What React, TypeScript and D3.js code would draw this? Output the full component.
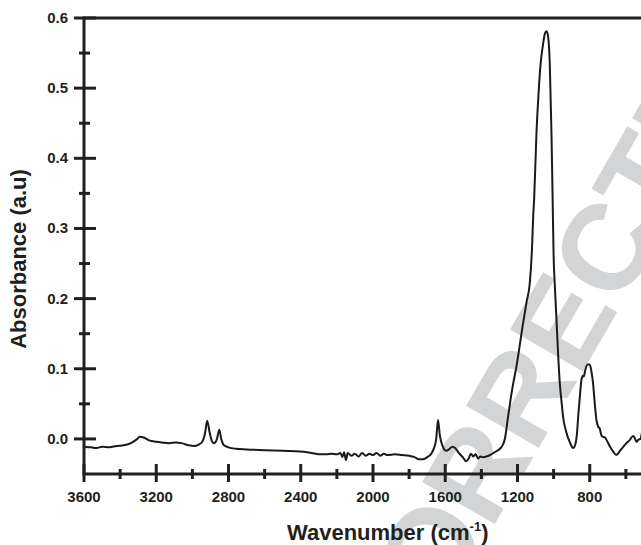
import React, { useRef, useEffect } from "react";
import * as d3 from "d3";

// FTIR spectrum
const wavenumbers = [
  3600, 3560, 3530, 3500, 3460, 3420, 3380, 3340, 3310, 3290, 3270, 3240, 3200,
  3170, 3130, 3090, 3060, 3020, 2990, 2965, 2945, 2930, 2918, 2905, 2890, 2880,
  2865, 2851, 2840, 2825, 2800, 2760, 2700, 2600, 2500, 2400, 2340, 2300, 2260,
  2230, 2200, 2180, 2170, 2160, 2150, 2140, 2120, 2100, 2080, 2060, 2040, 2020,
  2000, 1980, 1960, 1940, 1920, 1880, 1840, 1800, 1770, 1745, 1725, 1700, 1680,
  1665, 1650, 1640, 1630, 1615, 1595, 1580, 1560, 1545, 1525, 1500, 1485, 1470,
  1458, 1445, 1432, 1418, 1405, 1390, 1360, 1320, 1290, 1270, 1252, 1230, 1206,
  1169, 1150, 1132, 1120, 1113, 1108, 1095, 1084, 1073, 1060, 1048, 1040, 1032,
  1021, 1012, 1006, 1000, 994, 985, 975, 966, 955, 948, 930, 910, 892, 880, 870,
  864, 855, 846, 838, 833, 825, 812, 800, 790, 782, 772, 763, 754, 745, 735, 726,
  715, 708, 690, 670, 653, 630, 610, 597, 580, 560, 550, 541, 530, 519, 510, 500,
];
const absorbance = [
  -0.011, -0.012, -0.013, -0.011, -0.012, -0.01, -0.009, -0.006, -0.001, 0.003,
  0.002, -0.002, -0.004, -0.005, -0.006, -0.005, -0.006, -0.009, -0.01, -0.008,
  -0.004, 0.008, 0.026, 0.01, -0.004, -0.006, -0.001, 0.013, 0.0, -0.009,
  -0.012, -0.014, -0.015, -0.016, -0.017, -0.018, -0.02, -0.022, -0.022, -0.021,
  -0.022, -0.02, -0.026, -0.019, -0.03, -0.02, -0.024, -0.021, -0.025, -0.02,
  -0.024, -0.021, -0.023, -0.02, -0.024, -0.021, -0.023, -0.022, -0.023, -0.024,
  -0.026, -0.029, -0.029, -0.026, -0.022, -0.015, 0.0, 0.027, 0.005, -0.01,
  -0.017, -0.015, -0.011, -0.013, -0.02, -0.027, -0.032, -0.028, -0.021, -0.025,
  -0.022, -0.028, -0.025, -0.026, -0.024, -0.018, -0.012, 0.0, 0.032, 0.07,
  0.103, 0.165, 0.195, 0.222, 0.27, 0.318, 0.341, 0.436, 0.49, 0.532, 0.56,
  0.578, 0.581, 0.576, 0.532, 0.436, 0.35, 0.26, 0.222, 0.175, 0.12, 0.08, 0.05,
  0.032, 0.01, -0.005, -0.013, -0.008, 0.01, 0.032, 0.06, 0.084, 0.09, 0.089,
  0.098, 0.106, 0.106, 0.095, 0.08, 0.05, 0.027, 0.018, 0.015, 0.005, 0.003,
  0.002, -0.001, -0.01, -0.018, -0.023, -0.016, -0.01, -0.006, -0.002, 0.004,
  0.001, -0.004, -0.001, 0.0, 0.01, 0.015,
];

const xMajorTicks = [3600, 3200, 2800, 2400, 2000, 1600, 1200, 800];
const xMinorTicks = [3400, 3000, 2600, 2200, 1800, 1400, 1000, 600];
const yMajorTicks = [0.0, 0.1, 0.2, 0.3, 0.4, 0.5, 0.6];
const yMinorTicks = [0.05, 0.15, 0.25, 0.35, 0.45, 0.55];

const width = 641;
const height = 545;
const FONT = "'Liberation Sans', Arial, Helvetica, sans-serif";
const INK = "#231f20";

function Spectrum() {
  const svgRef = useRef(null);

  useEffect(() => {
    const svg = d3.select(svgRef.current);
    svg.selectAll("*").remove();

    const x = d3.scaleLinear().domain([3600, 400]).range([84, 662]);
    const y = d3.scaleLinear().domain([-0.05, 0.6]).range([474, 18]);

    // watermark behind everything
    svg
      .append("text")
      .attr("transform", "translate(556,334) rotate(-60)")
      .attr("text-anchor", "middle")
      .attr("dominant-baseline", "central")
      .attr("font-family", FONT)
      .attr("font-weight", "bold")
      .attr("font-size", 122)
      .attr("fill", "#d3d4d5")
      .text("CORRECTED");

    const data = wavenumbers.map((w, i) => [w, absorbance[i]]);
    const line = d3
      .line()
      .x((d) => x(d[0]))
      .y((d) => y(d[1]))
      .curve(d3.curveMonotoneX);

    svg
      .append("path")
      .datum(data)
      .attr("d", line)
      .attr("fill", "none")
      .attr("stroke", "#1a1a1a")
      .attr("stroke-width", 2)
      .attr("stroke-linejoin", "round");

    // frame: left, bottom, top
    const x0 = x(3600);
    const yb = y(-0.05);
    const yt = y(0.6);
    svg
      .append("path")
      .attr("d", `M${x(400)},${yt}H${x0}V${yb}H${x(400)}`)
      .attr("fill", "none")
      .attr("stroke", INK)
      .attr("stroke-width", 3);

    // x ticks
    svg
      .selectAll(".xmaj")
      .data(xMajorTicks)
      .join("line")
      .attr("class", "xmaj")
      .attr("x1", (d) => x(d))
      .attr("x2", (d) => x(d))
      .attr("y1", yb - 10)
      .attr("y2", yb + 8)
      .attr("stroke", INK)
      .attr("stroke-width", 3);
    svg
      .selectAll(".xmin")
      .data(xMinorTicks)
      .join("line")
      .attr("class", "xmin")
      .attr("x1", (d) => x(d))
      .attr("x2", (d) => x(d))
      .attr("y1", yb - 5)
      .attr("y2", yb + 5)
      .attr("stroke", INK)
      .attr("stroke-width", 3);
    svg
      .selectAll(".xlab")
      .data(xMajorTicks)
      .join("text")
      .attr("class", "xlab")
      .attr("x", (d) => x(d))
      .attr("y", yb + 28)
      .attr("text-anchor", "middle")
      .attr("font-family", FONT)
      .attr("font-weight", "bold")
      .attr("font-size", 15)
      .attr("fill", INK)
      .text((d) => d);

    // y ticks
    svg
      .selectAll(".ymaj")
      .data(yMajorTicks)
      .join("line")
      .attr("class", "ymaj")
      .attr("x1", x0 - 10)
      .attr("x2", x0 + 12)
      .attr("y1", (d) => y(d))
      .attr("y2", (d) => y(d))
      .attr("stroke", INK)
      .attr("stroke-width", 3);
    svg
      .selectAll(".ymin")
      .data(yMinorTicks)
      .join("line")
      .attr("class", "ymin")
      .attr("x1", x0 - 5)
      .attr("x2", x0 + 6)
      .attr("y1", (d) => y(d))
      .attr("y2", (d) => y(d))
      .attr("stroke", INK)
      .attr("stroke-width", 3);
    svg
      .selectAll(".ylab")
      .data(yMajorTicks)
      .join("text")
      .attr("class", "ylab")
      .attr("x", 68)
      .attr("y", (d) => y(d) + 5)
      .attr("text-anchor", "end")
      .attr("font-family", FONT)
      .attr("font-weight", "bold")
      .attr("font-size", 15)
      .attr("fill", INK)
      .text((d) => d3.format(".1f")(d));

    // axis titles
    const xt = svg
      .append("text")
      .attr("x", 287)
      .attr("y", 540)
      .attr("font-family", FONT)
      .attr("font-weight", "bold")
      .attr("font-size", 22)
      .attr("fill", INK);
    xt.append("tspan").text("Wavenumber (cm");
    xt.append("tspan").attr("dy", -9).attr("font-size", 13).text("-1");
    xt.append("tspan").attr("dy", 9).text(")");

    svg
      .append("text")
      .attr("transform", "translate(26,259) rotate(-90)")
      .attr("text-anchor", "middle")
      .attr("font-family", FONT)
      .attr("font-weight", "bold")
      .attr("font-size", 22)
      .attr("fill", INK)
      .text("Absorbance (a.u)");
  }, []);

  return (
    <svg
      ref={svgRef}
      width={width}
      height={height}
      style={{ position: "absolute", left: 0, top: 0, background: "#fff" }}
    ></svg>
  );
}

export default function App() {
  return <Spectrum />;
}
